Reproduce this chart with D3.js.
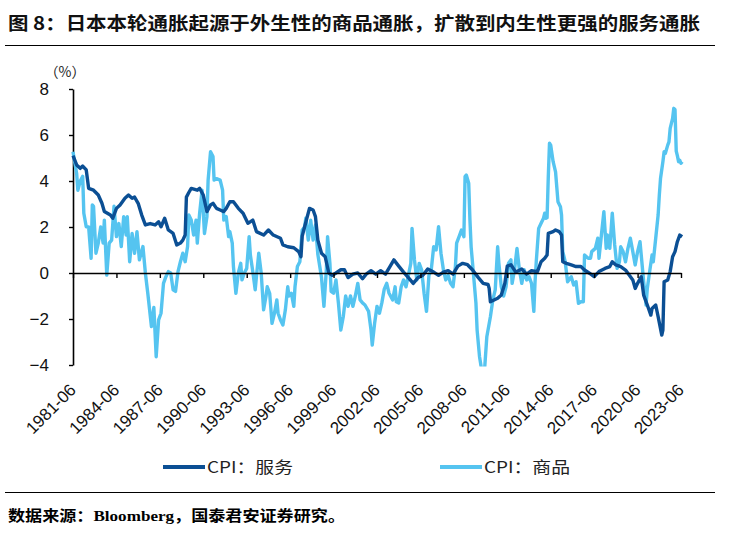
<!DOCTYPE html>
<html><head><meta charset="utf-8">
<script src="https://cdn.jsdelivr.net/npm/d3@7"></script>
<style>
html,body{margin:0;padding:0;background:#fff;}
svg{display:block;}
</style></head>
<body><svg id="c" width="735" height="549"></svg>
<script>
// ---------------- DATA ----------------
const titleText = "图 8：日本本轮通胀起源于外生性的商品通胀，扩散到内生性更强的服务通胀";
const unitLabel = "（%）";
const seriesNames = ["CPI：服务", "CPI：商品"];
const yTicks = [-4, -2, 0, 2, 4, 6, 8];
const xTickLabels = ["1981-06","1984-06","1987-06","1990-06","1993-06","1996-06","1999-06","2002-06","2005-06","2008-06","2011-06","2014-06","2017-06","2020-06","2023-06"];

// CPI: services (y/y %)
const servicesDates = ["1981-06","1981-09","1981-12","1982-02","1982-05","1982-07","1982-11","1983-03","1983-06","1983-08","1984-01","1984-03","1984-06","1984-09","1985-01","1985-04","1985-07","1985-09","1985-12","1986-03","1986-06","1986-10","1987-02","1987-05","1987-07","1987-10","1988-01","1988-05","1988-08","1988-11","1989-01","1989-03","1989-04","1989-06","1989-08","1990-01","1990-03","1990-06","1990-09","1990-12","1991-02","1991-05","1991-08","1991-11","1992-01","1992-04","1992-07","1992-11","1993-03","1993-07","1993-11","1994-02","1994-08","1994-12","1995-04","1995-10","1995-12","1996-04","1996-09","1997-01","1997-03","1997-04","1997-06","1997-10","1998-01","1998-03","1998-05","1998-08","1998-11","1999-02","1999-05","1999-08","1999-12","2000-03","2000-06","2000-10","2001-02","2001-06","2001-09","2002-01","2002-05","2002-09","2003-01","2003-05","2003-08","2003-12","2004-04","2004-08","2004-12","2005-04","2005-08","2005-12","2006-05","2006-09","2007-01","2007-05","2007-09","2008-01","2008-05","2008-09","2009-01","2009-06","2009-10","2010-02","2010-03","2010-04","2010-10","2011-01","2011-04","2011-06","2011-09","2012-01","2012-06","2012-10","2013-02","2013-07","2013-10","2014-01","2014-03","2014-04","2014-08","2014-10","2015-01","2015-03","2015-04","2015-07","2015-11","2016-03","2016-07","2016-10","2017-02","2017-06","2017-10","2018-03","2018-07","2018-09","2018-12","2019-04","2019-08","2019-11","2020-02","2020-04","2020-06","2020-09","2020-11","2021-02","2021-05","2021-06","2021-09","2021-11","2022-02","2022-03","2022-04","2022-07","2022-09","2022-11","2023-01","2023-03","2023-05","2023-07"];
const servicesValues = [5.1,4.7,4.55,4.65,4.48,3.68,3.6,3.39,3.03,2.67,2.52,2.38,2.81,2.96,3.25,3.39,3.25,3.3,3.03,2.52,2.09,2.15,2.09,2.23,2.01,2.38,1.87,1.72,1.22,1.3,1.43,1.65,3.3,3.5,3.68,3.6,3.68,3.39,2.67,2.96,3.03,2.81,2.74,2.67,2.81,3.1,3.1,2.81,2.6,2.16,2.3,1.8,1.65,1.87,1.65,1.51,1.22,1.14,1.1,0.93,0.71,1.6,2.01,2.81,2.74,2.45,1.43,0.86,0.71,0.0,-0.1,0.0,0.14,0.14,-0.2,-0.05,0.0,-0.25,-0.05,0.1,-0.05,0.1,-0.05,0.3,0.57,0.3,0.04,-0.2,-0.45,-0.2,-0.1,0.17,0.04,-0.1,0.04,0.1,-0.05,0.3,0.42,0.36,0.14,-0.2,-0.45,-0.5,-0.67,-1.25,-1.1,-0.96,-0.45,0.3,0.36,0.04,0.17,-0.05,0.1,0.06,0.49,0.64,0.78,1.72,1.8,1.87,1.8,1.65,0.49,0.42,0.35,0.28,0.28,0.13,-0.01,-0.16,0.06,0.2,0.28,0.49,0.35,0.28,0.13,-0.09,-0.3,-0.67,-0.45,-0.16,-0.96,-1.39,-1.83,-1.54,-1.39,-1.9,-2.7,-2.48,-0.38,-0.3,0.06,0.71,0.93,1.36,1.65,1.58];

// CPI: goods (y/y %)
const goodsDates = ["1981-06","1981-09","1981-10","1981-12","1982-02","1982-03","1982-05","1982-07","1982-09","1982-10","1982-11","1983-01","1983-03","1983-05","1983-07","1983-08","1983-10","1983-12","1984-02","1984-04","1984-06","1984-08","1984-10","1984-12","1985-02","1985-03","1985-05","1985-07","1985-09","1985-11","1986-01","1986-04","1986-06","1986-08","1986-11","1987-01","1987-03","1987-05","1987-07","1987-09","1987-11","1988-01","1988-03","1988-05","1988-07","1988-09","1988-11","1989-01","1989-03","1989-05","1989-06","1989-08","1989-10","1989-12","1990-01","1990-03","1990-05","1990-07","1990-09","1990-10","1990-12","1991-02","1991-03","1991-05","1991-08","1991-10","1991-11","1992-01","1992-03","1992-04","1992-06","1992-07","1992-09","1992-11","1993-01","1993-02","1993-04","1993-06","1993-08","1993-09","1993-11","1994-01","1994-02","1994-04","1994-06","1994-08","1994-10","1994-11","1995-01","1995-03","1995-05","1995-07","1995-08","1995-10","1995-12","1996-02","1996-04","1996-05","1996-07","1996-09","1996-10","1996-12","1997-02","1997-04","1997-06","1997-07","1997-09","1997-11","1998-01","1998-03","1998-05","1998-08","1998-10","1998-12","1999-01","1999-03","1999-04","1999-06","1999-08","1999-10","1999-12","2000-02","2000-04","2000-06","2000-08","2000-10","2000-12","2001-02","2001-04","2001-06","2001-08","2001-11","2002-01","2002-02","2002-04","2002-06","2002-08","2002-10","2002-12","2003-02","2003-04","2003-07","2003-09","2003-10","2003-12","2004-02","2004-04","2004-06","2004-08","2004-10","2004-11","2005-01","2005-03","2005-05","2005-07","2005-09","2005-11","2006-01","2006-03","2006-05","2006-07","2006-09","2006-11","2007-01","2007-03","2007-05","2007-07","2007-09","2007-11","2007-12","2008-02","2008-04","2008-06","2008-07","2008-08","2008-10","2008-11","2008-12","2009-02","2009-04","2009-05","2009-07","2009-09","2009-11","2010-01","2010-04","2010-06","2010-08","2010-10","2010-11","2011-01","2011-03","2011-05","2011-07","2011-09","2011-10","2011-12","2012-02","2012-04","2012-06","2012-08","2012-10","2012-12","2013-02","2013-04","2013-05","2013-06","2013-08","2013-10","2013-12","2014-01","2014-02","2014-03","2014-04","2014-05","2014-06","2014-07","2014-08","2014-10","2014-12","2015-02","2015-03","2015-04","2015-06","2015-08","2015-11","2016-01","2016-03","2016-05","2016-07","2016-09","2016-10","2017-01","2017-03","2017-04","2017-07","2017-09","2017-10","2017-12","2018-02","2018-04","2018-05","2018-07","2018-09","2018-11","2019-01","2019-03","2019-04","2019-06","2019-08","2019-10","2019-12","2020-02","2020-04","2020-06","2020-08","2020-09","2020-11","2021-01","2021-02","2021-04","2021-06","2021-07","2021-09","2021-11","2021-12","2022-01","2022-03","2022-04","2022-05","2022-07","2022-08","2022-09","2022-11","2022-12","2023-01","2023-02","2023-03","2023-04","2023-05","2023-06","2023-07"];
const goodsValues = [5.27,4.33,3.6,4.0,4.2,2.6,2.01,2.0,0.64,2.96,2.9,0.86,1.3,2.0,1.3,2.3,-0.09,1.3,1.43,2.9,1.58,2.15,1.15,2.45,1.65,2.45,0.49,1.72,0.86,1.8,0.57,1.15,0.0,-0.88,-2.33,-1.5,-3.64,-2.04,-1.75,-0.45,-0.16,0.06,0.0,-0.73,-0.8,0.06,0.49,0.86,0.49,1.15,2.52,2.3,1.65,2.3,1.3,2.6,3.6,1.72,2.45,4.04,5.27,5.06,4.04,4.1,4.04,3.6,2.3,2.45,1.58,1.8,1.3,0.28,-0.88,0.0,0.42,-0.3,0.0,0.2,1.58,0.78,0.06,-0.73,-0.16,0.86,0.0,-1.6,-1.0,-0.6,-0.88,-2.19,-1.75,-1.17,-1.75,-2.04,-2.26,-1.6,-0.6,-1.0,-0.88,-1.45,-0.6,0.28,0.49,1.87,2.0,2.38,1.43,2.3,1.43,2.09,0.8,-0.2,-1.45,0.14,1.58,0.42,-0.8,-0.88,-0.3,-1.3,-2.48,-1.9,-1.0,-1.45,-1.0,-1.45,-1.0,-0.45,-1.17,-1.3,-1.39,-1.67,-2.48,-3.13,-2.2,-1.45,-1.75,-1.3,-0.7,-0.45,-0.88,-1.17,-0.6,-1.25,-1.3,-0.6,-0.3,-0.6,-0.1,0.42,1.94,0.57,-0.3,0.42,0.14,-0.88,-1.67,-0.1,0.14,1.14,1.0,2.01,0.86,0.14,-0.3,-0.1,-0.45,-0.6,0.3,1.3,1.58,1.87,1.58,4.19,4.26,3.9,2.3,1.14,-0.1,-1.3,-2.48,-3.64,-4.3,-4.3,-2.77,-1.9,-1.17,-0.73,1.14,0.42,-0.6,-1.0,-0.6,0.42,0.57,-0.45,0.14,1.07,0.14,-0.45,0.14,-0.3,-0.16,-0.45,-1.67,-0.4,0.49,1.94,2.16,2.38,2.6,2.38,2.4,4.2,5.64,5.56,5.2,4.84,4.4,3.1,2.88,2.52,0.93,0.49,-0.38,-0.16,-0.52,-0.38,-1.32,-1.25,-1.25,0.78,0.64,0.64,0.93,1.07,1.51,0.64,1.65,2.67,1.07,1.65,1.07,2.6,1.22,0.2,0.49,1.14,0.93,0.49,1.07,1.51,0.93,0.35,0.93,1.36,0.78,-0.38,-1.39,-0.67,0.06,0.78,0.49,1.51,2.52,3.39,4.12,4.84,5.27,5.2,5.56,5.7,6.29,6.72,7.16,7.1,5.3,5.1,4.84,4.9,4.77,4.84];

const sourceParts = ["数据来源：", "Bloomberg", "，国泰君安证券研究。"];

// ---------------- CHART ----------------
const svg = d3.select("#c");
const parse = d3.timeParse("%Y-%m");
const colors = ["#0b4f94", "#55c4f0"];
const cjk = "'Noto Sans CJK SC', 'Noto Sans', sans-serif";
const latin = "'Liberation Sans', Arial, sans-serif";

const x = d3.scaleTime().domain([parse("1981-06"), parse("2023-06")]).range([73, 681]);
const y = d3.scaleLinear().domain([-4, 8]).range([365, 89]);

// title
const t = svg.append("text").attr("x", 8).attr("y", 30)
  .attr("font-family", cjk).attr("font-weight", "bold").attr("font-size", 18)
  .attr("textLength", 692).attr("lengthAdjust", "spacingAndGlyphs").attr("fill", "#111");
t.text(titleText);
svg.append("line").attr("x1", 5).attr("x2", 715).attr("y1", 45.5).attr("y2", 45.5)
  .attr("stroke", "#000").attr("stroke-width", 1.2);

// unit
svg.append("text").attr("x", 65).attr("y", 77).attr("text-anchor", "middle")
  .attr("font-family", cjk).attr("font-size", 14).attr("fill", "#222").text(unitLabel);

// y axis
const fmt = d => d < 0 ? "\u2212" + Math.abs(d) : String(d);
const yAxis = svg.append("g").attr("transform", "translate(73,0)")
  .call(d3.axisLeft(y).tickValues(yTicks).tickSize(4).tickSizeOuter(0).tickPadding(20).tickFormat(fmt));
yAxis.select(".domain").attr("stroke", "#000").attr("stroke-width", 1.6);
yAxis.selectAll(".tick line").attr("stroke", "#000").attr("stroke-width", 1.4);
yAxis.selectAll(".tick text").attr("font-family", latin).attr("font-size", 17).attr("fill", "#111");

// lines (clipped to plot area)
svg.append("defs").append("clipPath").attr("id", "clip")
  .append("rect").attr("x", 60).attr("y", 80).attr("width", 640).attr("height", 286.5);

const line = d3.line().x(d => x(d.date)).y(d => y(d.value)).curve(d3.curveLinear);
const servicesData = servicesDates.map((d, i) => ({date: parse(d), value: servicesValues[i]}));
const goodsData = goodsDates.map((d, i) => ({date: parse(d), value: goodsValues[i]}));

const plot = svg.append("g").attr("clip-path", "url(#clip)");
plot.append("path").datum(goodsData).attr("d", line).attr("fill", "none")
  .attr("stroke", colors[1]).attr("stroke-width", 3.4).attr("stroke-linejoin", "round");
plot.append("path").datum(servicesData).attr("d", line).attr("fill", "none")
  .attr("stroke", colors[0]).attr("stroke-width", 3.4).attr("stroke-linejoin", "round");

// x axis at zero
const xTickDates = xTickLabels.map(parse);
const xAxis = svg.append("g").attr("transform", `translate(0,${y(0)})`)
  .call(d3.axisBottom(x).tickValues(xTickDates).tickSize(5).tickSizeOuter(0).tickFormat(""));
xAxis.select(".domain").attr("stroke", "#000").attr("stroke-width", 1.6);
xAxis.selectAll(".tick line").attr("stroke", "#000").attr("stroke-width", 1.4);

// x labels, rotated, at bottom
svg.append("g").selectAll("text").data(xTickLabels).join("text")
  .attr("transform", d => `translate(${x(parse(d)) + 4},391) rotate(-45)`)
  .attr("text-anchor", "end").attr("font-family", latin).attr("font-size", 17).attr("fill", "#111")
  .text(d => d);

// legend
const legend = svg.append("g");
const lx = [163, 440];
seriesNames.forEach((name, i) => {
  legend.append("line").attr("x1", lx[i]).attr("x2", lx[i] + 42).attr("y1", 467).attr("y2", 467)
    .attr("stroke", colors[i]).attr("stroke-width", 4);
  legend.append("text").attr("x", lx[i] + 44).attr("y", 473)
    .attr("font-family", cjk).attr("font-size", 16).attr("fill", "#222")
    .attr("textLength", 86).attr("lengthAdjust", "spacingAndGlyphs").text(name);
});

// footer
svg.append("line").attr("x1", 5).attr("x2", 715).attr("y1", 492.5).attr("y2", 492.5)
  .attr("stroke", "#000").attr("stroke-width", 1.2);
const src = svg.append("text").attr("x", 8).attr("y", 521).attr("font-size", 15)
  .attr("font-weight", "bold").attr("fill", "#000")
  .attr("textLength", 337).attr("lengthAdjust", "spacingAndGlyphs");
src.append("tspan").attr("font-family", cjk).text(sourceParts[0]);
src.append("tspan").attr("font-family", "'Liberation Serif', 'Times New Roman', serif").text(sourceParts[1]);
src.append("tspan").attr("font-family", cjk).text(sourceParts[2]);
</script></body></html>
